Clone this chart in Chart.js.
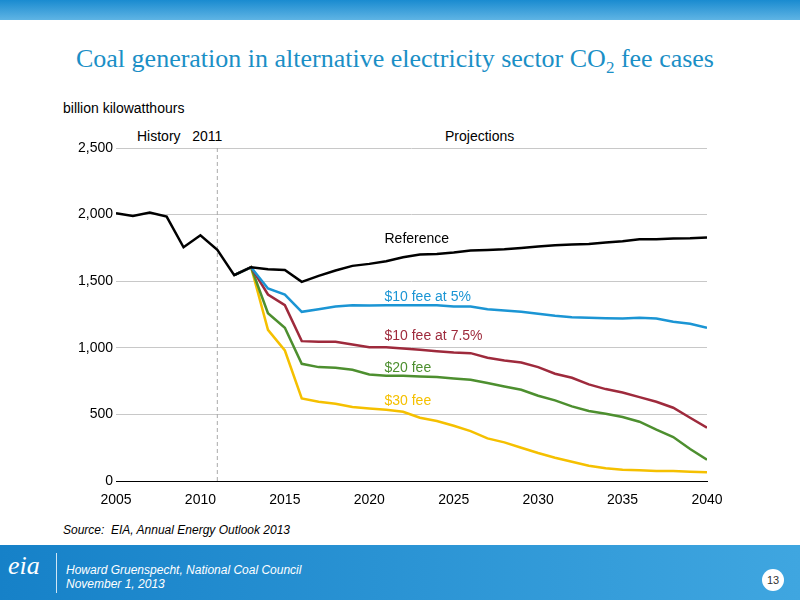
<!DOCTYPE html>
<html><head><meta charset="utf-8">
<script src="https://cdn.jsdelivr.net/npm/chart.js@4"></script>
<style>
body{margin:0;width:800px;height:600px;position:relative;overflow:hidden;background:#fff;font-family:"Liberation Sans",Arial,sans-serif}
#c{position:absolute;left:0;top:0}
.t{position:absolute;white-space:nowrap}
#top{position:absolute;left:0;top:0;width:800px;height:20px;background:linear-gradient(#1a8bd0,#5fb4e4)}
#foot{position:absolute;left:0;top:545px;width:800px;height:55px;background:linear-gradient(90deg,#1681c8,#3fa6e0)}
</style></head><body>
<div id="top"></div>
<div class="t" style="left:0;width:790px;text-align:center;top:44px;font-family:'Liberation Serif',serif;font-size:26px;color:#1b8fc6">Coal generation in alternative electricity sector CO<sub style="font-size:17px">2</sub> fee cases</div>
<div class="t" style="left:63px;top:100px;font-size:14px;color:#000">billion kilowatthours</div>
<div class="t" style="left:137px;top:128px;font-size:14px">History&nbsp;&nbsp;&nbsp;2011</div>
<div class="t" style="left:445px;top:128px;font-size:14px">Projections</div>
<div class="t" style="left:63px;top:523px;font-size:12px;font-style:italic">Source:&nbsp; EIA, Annual Energy Outlook 2013</div>
<canvas id="c" width="800" height="600"></canvas>
<div id="foot">
<div class="t" style="left:8px;top:6px;font-family:'Liberation Serif',serif;font-size:26px;font-style:italic;color:#fff">eia</div>
<div style="position:absolute;left:56px;top:8px;width:1px;height:40px;background:#cfe6f5"></div>
<div class="t" style="left:66px;top:18px;font-size:12px;font-style:italic;color:#fff;line-height:14px">Howard Gruenspecht, National Coal Council<br>November 1, 2013</div>
<div class="t" style="left:762px;top:24px;width:22px;height:22px;border-radius:11px;background:#fff;color:#333;font-size:11px;text-align:center;line-height:22px">13</div>
</div>
<script>
const years = [];
for (let y = 2005; y <= 2040; y++) years.push(y);
const reference = [2010,1990,2015,1985,1755,1845,1735,1545,1605,1590,1585,1495,1540,1580,1615,1630,1650,1680,1700,1705,1715,1730,1735,1740,1750,1760,1770,1775,1780,1790,1800,1815,1815,1820,1822,1828];
// fee cases start 2012
const fee10at5 = [1545,1605,1445,1400,1270,1290,1310,1320,1318,1320,1320,1320,1320,1310,1310,1290,1280,1270,1255,1240,1230,1225,1222,1220,1225,1220,1195,1180,1150];
const fee10at75 = [1545,1605,1400,1320,1050,1045,1045,1025,1005,1005,995,985,975,965,960,925,905,890,855,805,775,725,690,665,630,595,550,475,400];
const fee20 = [1545,1605,1260,1150,880,855,850,835,800,790,790,785,780,770,760,735,710,685,640,605,560,525,505,480,445,385,330,240,160];
const fee30 = [1545,1605,1135,980,620,595,580,555,545,535,520,475,450,415,375,320,290,250,210,175,145,115,95,85,80,75,75,70,65];
const labels = [
  {text:'Reference', x:2020.9, y:1815, color:'#000'},
  {text:'$10 fee at 5%', x:2020.9, y:1380, color:'#1b95d4'},
  {text:'$10 fee at 7.5%', x:2020.9, y:1085, color:'#9e2a3c'},
  {text:'$20 fee', x:2020.9, y:850, color:'#4d8f2f'},
  {text:'$30 fee', x:2020.9, y:600, color:'#f5c000'}
];
function pts(arr, start){ return arr.map((v,i)=>({x:start+i,y:v})); }
function ds(arr,start,color){ return {data:pts(arr,start),borderColor:color,borderWidth:2.5,pointRadius:0,tension:0,fill:false}; }
const overlay = {
  id:'overlay',
  beforeDatasetsDraw(ch){
    const c=ch.ctx, xs=ch.scales.x, a=ch.chartArea;
    const px=xs.getPixelForValue(2011);
    c.save(); c.strokeStyle='#aaa'; c.lineWidth=1; c.setLineDash([4,3]);
    c.beginPath(); c.moveTo(px,a.top); c.lineTo(px,a.bottom); c.stroke(); c.restore();
  },
  afterDatasetsDraw(ch){
    const c=ch.ctx, xs=ch.scales.x, ys=ch.scales.y;
    c.save(); c.font='14px "Liberation Sans", Arial'; c.textBaseline='middle';
    labels.forEach(l=>{ c.fillStyle=l.color; c.fillText(l.text, xs.getPixelForValue(l.x), ys.getPixelForValue(l.y)); });
    c.restore();
  }
};
new Chart(document.getElementById('c'), {
  type:'line',
  data:{datasets:[
    ds(reference,2005,'#000'),
    ds(fee10at5,2012,'#1b95d4'),
    ds(fee10at75,2012,'#9e2a3c'),
    ds(fee20,2012,'#4d8f2f'),
    ds(fee30,2012,'#f5c000')
  ]},
  options:{
    responsive:false, animation:false,
    layout:{padding:{left:60,right:93,top:148,bottom:89}},
    plugins:{legend:{display:false},tooltip:{enabled:false}},
    scales:{
      x:{type:'linear',min:2005,max:2040,
        ticks:{stepSize:5,color:'#000',font:{size:14},callback:v=>String(v)},
        grid:{display:false,drawTicks:true},border:{color:'#000'},
        afterFit(s){s.height=30;}},
      y:{min:0,max:2500,
        ticks:{stepSize:500,color:'#000',font:{size:14},callback:v=>v.toLocaleString('en-US')},
        grid:{color:'#c8c8c8',drawTicks:false},border:{display:false},
        afterFit(s){s.width=56;}}
    }
  },
  plugins:[overlay]
});
</script>
</body></html>
